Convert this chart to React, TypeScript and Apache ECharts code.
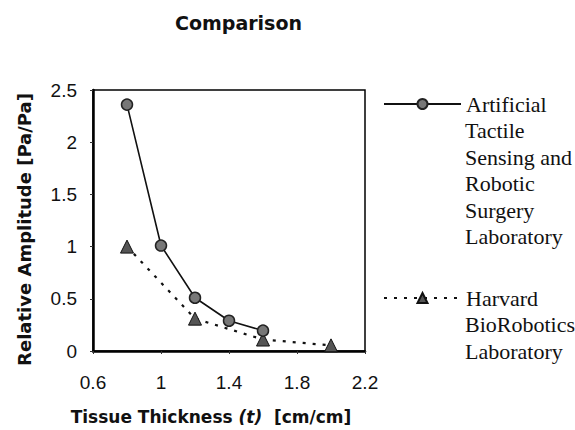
import React, { useEffect, useRef } from "react";
import * as echarts from "echarts";

const titleText = "Comparison";
const xTicks = [0.6, 1, 1.4, 1.8, 2.2];
const yTicks = [0, 0.5, 1, 1.5, 2, 2.5];
const seriesNames = [
  "Artificial Tactile Sensing and Robotic Surgery Laboratory",
  "Harvard BioRobotics Laboratory",
];
const legendLines = [
  ["Artificial", "Tactile", "Sensing and", "Robotic", "Surgery", "Laboratory"],
  ["Harvard", "BioRobotics", "Laboratory"],
];
const atsrsX = [0.8, 1.0, 1.2, 1.4, 1.6];
const atsrsY = [2.36, 1.01, 0.51, 0.29, 0.195];
const harvardX = [0.8, 1.2, 1.6, 2.0];
const harvardY = [1.0, 0.31, 0.11, 0.054];

const LH = 26.6;
const LEGEND_FONT = { fontFamily: "Liberation Serif", fontSize: 22 };

export default function App() {
  const ref = useRef<HTMLDivElement>(null);
  useEffect(() => {
    if (!ref.current) return;
    const chart = echarts.init(ref.current, undefined, { renderer: "svg" });
    const iconYs = [104, 298];
    const legendTextX = 465;
    const mkLegend = (idx: number) => ({
      orient: "vertical",
      left: 383,
      top: iconYs[idx] - LH / 2,
      padding: 0,
      itemWidth: 77,
      itemHeight: 12.5,
      itemGap: 0,
      selectedMode: false,
      data: [seriesNames[idx]],
      formatter: () => legendLines[idx][0],
      textStyle: { ...LEGEND_FONT, color: "#111", lineHeight: LH },
    });
    const extraLines: any[] = [];
    legendLines.forEach((lines, idx) => {
      lines.slice(1).forEach((t, k) => {
        extraLines.push({
          type: "text",
          left: legendTextX,
          top: iconYs[idx] + (k + 1) * LH - LH / 2,
          style: {
            text: t,
            ...LEGEND_FONT,
            fill: "#111",
            lineHeight: LH,
          },
        });
      });
    });
    chart.setOption({
      animation: false,
      backgroundColor: "#fff",
      title: {
        text: titleText,
        left: 175,
        top: 13,
        padding: 0,
        textStyle: {
          fontFamily: "DejaVu Sans",
          fontWeight: "bold",
          fontSize: 19,
          color: "#111",
        },
      },
      legend: [mkLegend(0), mkLegend(1)],
      graphic: extraLines,
      grid: {
        left: 93,
        top: 90,
        width: 272,
        height: 264,
        show: true,
        borderColor: "#000",
        borderWidth: 1.5,
        backgroundColor: "transparent",
      },
      xAxis: {
        type: "value",
        min: xTicks[0],
        max: xTicks[xTicks.length - 1],
        name: "{b|Tissue Thickness }{i|(t)}{b|  [cm/cm]}",
        nameLocation: "middle",
        nameGap: 57,
        nameTextStyle: {
          padding: [0, 36, 0, 0],
          rich: {
            b: { fontFamily: "DejaVu Sans", fontWeight: "bold", fontSize: 17, color: "#111" },
            i: {
              fontFamily: "DejaVu Sans",
              fontWeight: "bold",
              fontStyle: "italic",
              fontSize: 17,
              color: "#111",
            },
          },
        },
        axisLine: { onZero: false, lineStyle: { color: "#000", width: 2.5 } },
        axisTick: { show: true, length: 3, customValues: xTicks, lineStyle: { color: "#333" } },
        axisLabel: {
          customValues: xTicks,
          margin: 22,
          fontFamily: "Liberation Sans",
          fontSize: 19,
          color: "#111",
        },
        splitLine: { show: false },
      },
      yAxis: {
        type: "value",
        min: yTicks[0],
        max: yTicks[yTicks.length - 1],
        interval: 0.5,
        name: "Relative Amplitude [Pa/Pa]",
        nameLocation: "middle",
        nameRotate: 90,
        nameGap: 60,
        nameTextStyle: {
          fontFamily: "DejaVu Sans",
          fontWeight: "bold",
          fontSize: 18,
          color: "#111",
          padding: [0, 18, 0, 0],
        },
        axisLine: { lineStyle: { color: "#000", width: 2.5 } },
        axisTick: { show: true, length: 3, lineStyle: { color: "#333" } },
        axisLabel: {
          margin: 16,
          fontFamily: "Liberation Sans",
          fontSize: 19,
          color: "#111",
        },
        splitLine: { show: false },
      },
      series: [
        {
          name: seriesNames[0],
          type: "line",
          data: atsrsX.map((x, i) => [x, atsrsY[i]]),
          symbol: "circle",
          symbolSize: 11,
          lineStyle: { color: "#111", width: 1.6 },
          itemStyle: { color: "#777", borderColor: "#222", borderWidth: 1.5 },
          z: 3,
        },
        {
          name: seriesNames[1],
          type: "line",
          data: harvardX.map((x, i) => [x, harvardY[i]]),
          symbol: "triangle",
          symbolSize: 13,
          lineStyle: { color: "#111", width: 2.2, type: [3, 7] },
          itemStyle: { color: "#555", borderColor: "#111", borderWidth: 1 },
          z: 2,
        },
      ],
    });
    return () => chart.dispose();
  }, []);
  return (
    <div
      ref={ref}
      style={{ position: "absolute", left: 0, top: 0, width: 575, height: 430 }}
    />
  );
}
